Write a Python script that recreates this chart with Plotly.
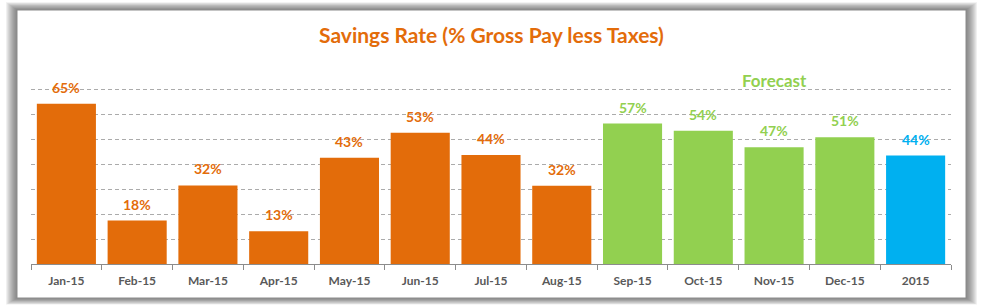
import plotly.graph_objects as go

categories = ["Jan-15", "Feb-15", "Mar-15", "Apr-15", "May-15", "Jun-15", "Jul-15",
              "Aug-15", "Sep-15", "Oct-15", "Nov-15", "Dec-15", "2015"]
values = [64.5, 17.5, 31.6, 13.2, 42.7, 52.8, 43.8, 31.5, 56.5, 53.6, 47.0, 51.0, 43.6]
labels = ["65%", "18%", "32%", "13%", "43%", "53%", "44%", "32%", "57%", "54%", "47%", "51%", "44%"]
kinds = ["actual"] * 8 + ["forecast"] * 4 + ["total"]
kind_colors = {"actual": "#E36C0A", "forecast": "#92D050", "total": "#00B0F0"}
title_text = "Savings Rate (% Gross Pay less Taxes)"
forecast_label = "Forecast"
forecast_pos = ("Nov-15", 73.8)

colors = [kind_colors[k] for k in kinds]
FONT = "Lato"

fig = go.Figure()
fig.add_trace(go.Bar(
    x=categories, y=values, marker=dict(color=colors, line=dict(width=0)),
    hoverinfo="skip", showlegend=False,
))

annotations = []
for i, (v, lab, col) in enumerate(zip(values, labels, colors)):
    annotations.append(dict(
        x=i, y=v, text=lab, showarrow=False, yanchor="bottom", yshift=6,
        font=dict(family=FONT, size=14, color=col, weight="bold"),
    ))
annotations.append(dict(
    x=categories.index(forecast_pos[0]), y=forecast_pos[1], text=forecast_label, showarrow=False,
    yanchor="middle", font=dict(family=FONT, size=17, color=kind_colors["forecast"], weight="bold"),
))

# frame with soft shadow (pixel geometry converted to paper coords)
L, R, T, B = 31, 951, 65, 264
def px(x):
    return (x - L) / (R - L)
def py(y):
    return (B - y) / (B - T)

annotations.append(dict(
    xref="paper", yref="paper", x=0.5, y=py(34), text=title_text, showarrow=False,
    yanchor="middle", xanchor="center",
    font=dict(family=FONT, size=21, color="#E36C0A", weight="bold"),
))

shapes = []
fx0, fx1, fy0, fy1 = 17, 966, 10, 298
for k in range(11, 0, -1):
    shapes.append(dict(
        type="rect", xref="paper", yref="paper", layer="below",
        x0=px(fx0 - k), x1=px(fx1 + k), y0=py(fy1 + k * 0.6), y1=py(fy0 - k * 0.7),
        fillcolor="rgba(60,60,60,0.08)", line=dict(width=0),
    ))
shapes.append(dict(
    type="rect", xref="paper", yref="paper", layer="below",
    x0=px(fx0), x1=px(fx1), y0=py(fy1), y1=py(fy0),
    fillcolor="white", line=dict(width=1, color="#8C8C8C"),
))

fig.update_layout(
    width=983, height=308,
    margin=dict(l=L, r=983 - R, t=T, b=308 - B),
    paper_bgcolor="white", plot_bgcolor="rgba(0,0,0,0)",
    bargap=0.165,
    annotations=annotations, shapes=shapes,
    xaxis=dict(
        type="category", range=[-0.5, len(categories) - 0.5],
        showline=True, linecolor="#8C8C8C", linewidth=1,
        ticks="outside", tickson="boundaries", ticklen=5, tickcolor="#8C8C8C",
        ticklabelstandoff=6,
        tickfont=dict(family=FONT, size=12, color="#595959", weight="bold"),
        showgrid=False, fixedrange=True,
    ),
    yaxis=dict(
        range=[0, 80.05], tickvals=[10, 20, 30, 40, 50, 60, 70, 80], showticklabels=False,
        showgrid=True, gridcolor="#ABABAB", griddash="4px,3px", gridwidth=1,
        zeroline=False, showline=False, fixedrange=True,
    ),
)
fig.update_traces(cliponaxis=False)

fig.write_html("out.html")
